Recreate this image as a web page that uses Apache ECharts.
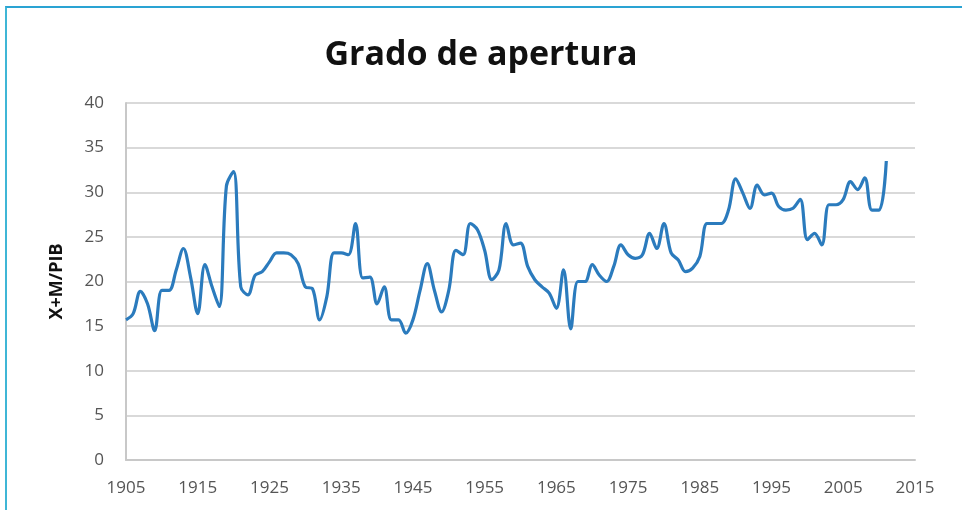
<!DOCTYPE html>
<html>
<head>
<meta charset="utf-8">
<script src="https://cdn.jsdelivr.net/npm/echarts@6/dist/echarts.min.js"></script>
<style>
  html, body { margin: 0; padding: 0; background: #fff; }
  #frame {
    position: absolute; left: 5px; top: 6px; width: 960px; height: 510px;
    border-left: 2px solid #3fb6d6; border-top: 2px solid #2aa3d3;
  }
  #chart { position: absolute; left: 0; top: 0; width: 962px; height: 510px; }
</style>
</head>
<body>
<div id="frame"></div>
<div id="chart"></div>
<script>
var years = [
  1905, 1906, 1907, 1908, 1909, 1910, 1911, 1912, 1913, 1914,
  1915, 1916, 1917, 1918, 1919, 1920, 1921, 1922, 1923, 1924,
  1925, 1926, 1927, 1928, 1929, 1930, 1931, 1932, 1933, 1934,
  1935, 1936, 1937, 1938, 1939, 1940, 1941, 1942, 1943, 1944,
  1945, 1946, 1947, 1948, 1949, 1950, 1951, 1952, 1953, 1954,
  1955, 1956, 1957, 1958, 1959, 1960, 1961, 1962, 1963, 1964,
  1965, 1966, 1967, 1968, 1969, 1970, 1971, 1972, 1973, 1974,
  1975, 1976, 1977, 1978, 1979, 1980, 1981, 1982, 1983, 1984,
  1985, 1986, 1987, 1988, 1989, 1990, 1991, 1992, 1993, 1994,
  1995, 1996, 1997, 1998, 1999, 2000, 2001, 2002, 2003, 2004,
  2005, 2006, 2007, 2008, 2009, 2010, 2011
];
var apertura = [
  15.7, 16.4, 18.9, 17.5, 14.5, 19.0, 19.0, 21.3, 23.7, 20.5,
  16.4, 21.9, 19.4, 17.2, 30.7, 32.3, 19.4, 18.5, 20.7, 21.1,
  22.2, 23.2, 23.2, 23.0, 22.0, 19.4, 19.2, 15.7, 18.3, 23.2,
  23.2, 23.0, 26.5, 20.4, 20.5, 17.5, 19.4, 15.7, 15.7, 14.2,
  15.7, 19.0, 22.0, 19.0, 16.6, 19.0, 23.5, 23.0, 26.5, 25.8,
  23.5, 20.2, 21.3, 26.5, 24.1, 24.3, 21.7, 20.2, 19.4, 18.7,
  17.0, 21.3, 14.7, 20.0, 20.0, 21.9, 20.7, 20.0, 21.7, 24.1,
  23.0, 22.6, 23.0, 25.4, 23.7, 26.5, 23.2, 22.4, 21.1, 21.5,
  22.8, 26.5, 26.5, 26.5, 28.0, 31.5, 29.9, 28.2, 30.8, 29.7,
  29.9, 28.4, 28.0, 28.2, 29.2, 24.7, 25.4, 24.1, 28.6, 28.6,
  29.2, 31.2, 30.3, 31.6, 28.0, 28.0, 33.5
];

var chart = echarts.init(document.getElementById('chart'));
var points = years.map(function (y, i) { return [y, apertura[i]]; });

chart.setOption({
  animation: false,
  title: {
    text: 'Grado de apertura',
    left: 'center',
    top: 33,
    textStyle: { fontFamily: 'Open Sans', fontWeight: 'bold', fontSize: 34, color: '#111' }
  },
  grid: { left: 126, right: 47, top: 103, bottom: 50 },
  xAxis: {
    type: 'value',
    min: 1905,
    max: 2015,
    interval: 10,
    axisLine: { lineStyle: { color: '#c8c8c8', width: 2 } },
    axisTick: { show: false },
    splitLine: { show: false },
    axisLabel: {
      color: '#555', fontFamily: 'Open Sans', fontSize: 17, margin: 20,
      formatter: function (v) { return String(v); }
    }
  },
  yAxis: {
    type: 'value',
    min: 0,
    max: 40,
    interval: 5,
    name: 'X+M/PIB',
    nameLocation: 'middle',
    nameGap: 60,
    nameRotate: 90,
    nameTextStyle: { fontFamily: 'Open Sans', fontWeight: 'bold', fontSize: 18, color: '#111' },
    axisLine: { show: true, lineStyle: { color: '#c8c8c8', width: 2 } },
    axisTick: { show: false },
    splitLine: { lineStyle: { color: '#d9d9d9', width: 2 } },
    axisLabel: { color: '#555', fontFamily: 'Open Sans', fontSize: 17, margin: 22 }
  },
  series: [
    {
      name: 'Grado de apertura',
      type: 'line',
      smooth: 0.35,
      showSymbol: false,
      lineStyle: { color: '#2b7bbd', width: 3.2 },
      data: points
    }
  ]
});
</script>
</body>
</html>
